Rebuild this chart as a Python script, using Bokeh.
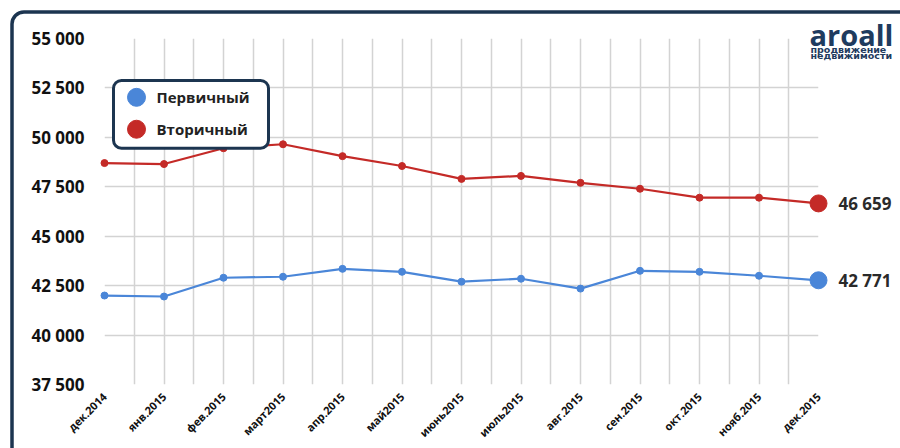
from bokeh.plotting import figure
from bokeh.models import Range1d, FixedTicker
from bokeh.core.properties import value
from bokeh.embed import file_html
from bokeh.resources import INLINE

months = ["дек.2014", "янв.2015", "фев.2015", "март2015", "апр.2015", "май2015",
          "июнь2015", "июль2015", "авг.2015", "сен.2015", "окт.2015", "нояб.2015", "дек.2015"]
primary = [42000, 41950, 42900, 42950, 43350, 43200, 42700, 42850, 42350, 43250, 43200, 43000, 42771]
secondary = [48700, 48650, 49450, 49650, 49050, 48550, 47900, 48050, 47700, 47400, 46950, 46950, 46659]
y_ticks = [37500, 40000, 42500, 45000, 47500, 50000, 52500, 55000]
series_names = ["Первичный", "Вторичный"]

BLUE = "#4a86d8"
RED = "#c42a27"
NAVY = "#1c3550"
LOGO = "#1f3b5e"
FONT = "Open Sans"

W, H = 900, 448
L, R, T, B = 104, 818, 38, 385
xs = list(range(len(months)))

p = figure(width=W, height=H, output_backend="svg", toolbar_location=None,
           x_range=Range1d(0, len(months) - 1), y_range=Range1d(y_ticks[0], y_ticks[-1]),
           min_border_left=L, min_border_right=W - R, min_border_top=T, min_border_bottom=H - B)
p.outline_line_color = None
p.background_fill_color = "white"
p.border_fill_color = "white"

def dx(px):
    return (px - L) / (R - L) * (len(months) - 1)

def dy(py):
    return y_ticks[-1] - (py - T) / (B - T) * (y_ticks[-1] - y_ticks[0])

# axes
p.xaxis.ticker = FixedTicker(ticks=xs)
p.xaxis.major_label_overrides = {i: m for i, m in enumerate(months)}
p.xaxis.major_label_orientation = 0.785398
p.xaxis.major_label_text_font = FONT
p.xaxis.major_label_text_font_style = "bold"
p.xaxis.major_label_text_font_size = "11px"
p.xaxis.major_label_text_color = "#111111"
p.xaxis.major_label_standoff = 4
p.yaxis.ticker = FixedTicker(ticks=y_ticks)
p.yaxis.major_label_overrides = {t: "{:,}".format(t).replace(",", " ") for t in y_ticks}
p.yaxis.major_label_text_font = FONT
p.yaxis.major_label_text_font_style = "bold"
p.yaxis.major_label_text_font_size = "17px"
p.yaxis.major_label_text_color = "#111111"
p.yaxis.major_label_standoff = 14
for ax in (p.xaxis, p.yaxis):
    ax.axis_line_color = None
    ax.major_tick_line_color = None
    ax.minor_tick_line_color = None

p.xgrid.ticker = FixedTicker(ticks=[i / 2 for i in range(2 * len(months) - 1)])
p.ygrid.ticker = FixedTicker(ticks=y_ticks)
for g in (p.xgrid, p.ygrid):
    g.grid_line_color = "#d3d3d3"
    g.grid_line_width = 1.5

# outer frame
p.quad(left=[dx(11.5)], right=[dx(960)], top=[dy(11.5)], bottom=[dy(520)],
       fill_color=None, line_color=NAVY, line_width=3.5, border_radius=12, level="overlay")

# series
for vals, col in ((primary, BLUE), (secondary, RED)):
    p.line(xs, vals, line_color=col, line_width=2.2, level="overlay")
    p.scatter(xs[:-1], vals[:-1], size=7, fill_color=col, line_color=col, level="overlay")
    p.scatter([xs[-1]], [vals[-1]], size=17, fill_color=col, line_color=col, level="overlay")
    p.text([xs[-1]], [vals[-1]], text=["{:,}".format(vals[-1]).replace(",", " ")],
           x_offset=20, text_baseline="middle", text_align="left",
           text_font=value(FONT), text_font_style="bold", text_font_size="17px",
           text_color="#2a2a2a", level="overlay")

# legend box
p.quad(left=[dx(113)], right=[dx(268)], top=[dy(80)], bottom=[dy(148)],
       fill_color="white", line_color=NAVY, line_width=3, border_radius=8, level="overlay")
for i, (name, col) in enumerate(zip(series_names, (BLUE, RED))):
    yy = dy(97 + i * 32)
    p.scatter([dx(136)], [yy], size=18, fill_color=col, line_color=col, level="overlay")
    p.text([dx(156)], [yy], text=[name], text_baseline="middle", text_align="left",
           text_font=value(FONT), text_font_style="bold", text_font_size="15px",
           text_color="#222222", level="overlay")

# logo
p.text([dx(809)], [dy(34)], text=["aroall"], text_baseline="middle", text_align="left",
       text_font=value(FONT), text_font_style="bold", text_font_size="29px",
       text_color=LOGO, level="overlay")
p.text([dx(810)], [dy(49)], text=["продвижение"], text_baseline="middle", text_align="left",
       text_font=value("DejaVu Sans"), text_font_style="bold", text_font_size="9.5px",
       text_color=LOGO, level="overlay")
p.text([dx(810)], [dy(55)], text=["недвижимости"], text_baseline="middle", text_align="left",
       text_font=value("DejaVu Sans"), text_font_style="bold", text_font_size="9.5px",
       text_color=LOGO, level="overlay")

open("out.html", "w").write(file_html(p, INLINE))
